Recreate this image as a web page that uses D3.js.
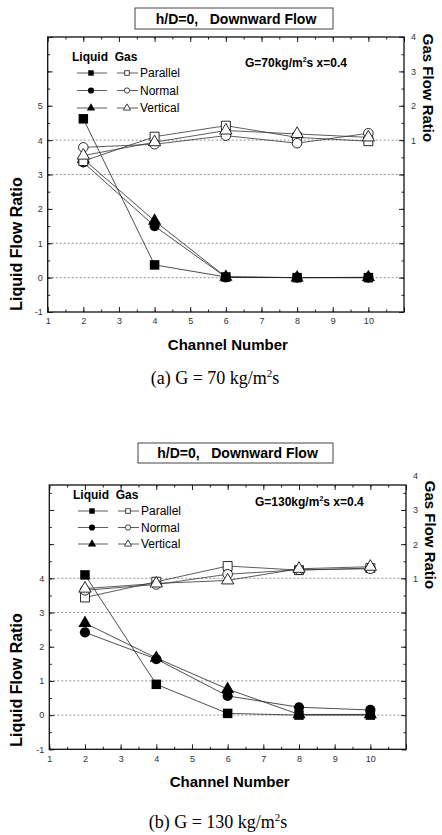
<!DOCTYPE html>
<html>
<head>
<meta charset="utf-8">
<script src="https://cdn.jsdelivr.net/npm/d3@7"></script>
<style>
  body { margin: 0; background: #fff; }
  svg { display: block; }
  .tick text { font-family: "Liberation Sans", Arial, sans-serif; font-size: 9px; fill: #333; }
</style>
</head>
<body>
<div id="chart"></div>
<script>
// Channel positions shared by both panels
const channels = [2, 4, 6, 8, 10];
const seriesNames = ['Parallel', 'Normal', 'Vertical'];

// (a) G = 70 kg/m2s  -- liquid on left axis, gas on right axis
const liqParallelA = [4.62, 0.37, 0.02, 0.0, 0.0];
const liqNormalA = [3.35, 1.50, 0.01, 0.0, 0.0];
const liqVerticalA = [3.45, 1.65, 0.02, 0.0, 0.01];
const gasParallelA = [0.39, 1.10, 1.42, 1.08, 0.97];
const gasNormalA = [0.79, 0.88, 1.13, 0.91, 1.20];
const gasVerticalA = [0.55, 0.94, 1.28, 1.18, 1.08];

// (b) G = 130 kg/m2s
const liqParallelB = [4.10, 0.90, 0.05, 0.0, 0.0];
const liqNormalB = [2.42, 1.64, 0.56, 0.23, 0.15];
const liqVerticalB = [2.69, 1.67, 0.76, 0.02, 0.02];
const gasParallelB = [0.44, 0.90, 1.36, 1.24, 1.30];
const gasNormalB = [0.65, 0.82, 1.12, 1.25, 1.28];
const gasVerticalB = [0.70, 0.85, 0.94, 1.28, 1.34];

// tick labels
const xTickLabels = [1, 2, 3, 4, 5, 6, 7, 8, 9, 10];
const leftTickLabelsA = [-1, 0, 1, 2, 3, 4, 5];
const leftTickLabelsB = [-1, 0, 1, 2, 3, 4];
const rightTickLabels = [1, 2, 3, 4];
const refLines = [0, 1, 3, 4]; // dotted guide lines (left scale)

const svg = d3.select('#chart')
  .append('svg')
  .attr('width', 442)
  .attr('height', 835);

const sans = '"Liberation Sans", Arial, sans-serif';

function drawPanel(p) {
  const x = d3.scaleLinear().domain([1, 11]).range([p.left, p.right]);
  const yL = d3.scaleLinear().domain([-1, p.topVal]).range([p.bottom, p.top]);
  const yR = d3.scaleLinear().domain([-4, p.topVal - 3]).range([p.bottom, p.top]);

  const g = svg.append('g');

  // title box
  g.append('rect')
    .attr('x', p.titleBox[0]).attr('y', p.titleBox[1])
    .attr('width', p.titleBox[2]).attr('height', p.titleBox[3])
    .attr('fill', 'none').attr('stroke', '#444').attr('stroke-width', 1);
  g.append('text')
    .attr('x', p.titleBox[0] + p.titleBox[2] / 2 + 2)
    .attr('y', p.titleBox[1] + p.titleBox[3] / 2 + 5)
    .attr('text-anchor', 'middle')
    .attr('font-family', sans).attr('font-weight', 'bold').attr('font-size', 14)
    .attr('xml:space', 'preserve')
    .text('h/D=0,   Downward Flow');

  // dotted guide lines
  g.selectAll('.ref')
    .data(refLines)
    .enter()
    .append('line')
    .attr('x1', p.left).attr('x2', p.right)
    .attr('y1', d => yL(d)).attr('y2', d => yL(d))
    .attr('stroke', '#777').attr('stroke-width', 0.8)
    .attr('stroke-dasharray', '2,2');

  // axes, ticks pointing inward
  const halves = d3.range(1, 11.01, 0.5);
  const leftMinor = d3.range(-1, p.topVal + 0.01, 0.5);
  const leftMajor = d3.range(-1, Math.floor(p.topVal) + 0.01, 1);

  g.append('g')
    .attr('transform', 'translate(0,' + p.bottom + ')')
    .call(d3.axisBottom(x).tickValues(halves).tickSize(-2.5).tickFormat(''));
  g.append('g')
    .attr('transform', 'translate(0,' + p.bottom + ')')
    .call(d3.axisBottom(x).tickValues(d3.range(1, 12)).tickSize(-5).tickPadding(6)
      .tickFormat(d => xTickLabels.includes(d) ? d : ''));
  g.append('g')
    .attr('transform', 'translate(0,' + p.top + ')')
    .call(d3.axisTop(x).tickValues(halves).tickSize(-2.5).tickFormat(''));
  g.append('g')
    .attr('transform', 'translate(0,' + p.top + ')')
    .call(d3.axisTop(x).tickValues(d3.range(1, 12)).tickSize(-5).tickFormat(''));

  g.append('g')
    .attr('transform', 'translate(' + p.left + ',0)')
    .call(d3.axisLeft(yL).tickValues(leftMinor).tickSize(-2.5).tickFormat(''));
  g.append('g')
    .attr('transform', 'translate(' + p.left + ',0)')
    .call(d3.axisLeft(yL).tickValues(leftMajor).tickSize(-5).tickPadding(5)
      .tickFormat(d => p.leftLabels.includes(d) ? d : ''));
  g.append('g')
    .attr('transform', 'translate(' + p.right + ',0)')
    .call(d3.axisRight(yR).tickValues(leftMinor.map(d => d - 3)).tickSize(-2.5).tickFormat(''));
  g.append('g')
    .attr('transform', 'translate(' + p.right + ',0)')
    .call(d3.axisRight(yR).tickValues(leftMajor.map(d => d - 3)).tickSize(-5).tickPadding(7)
      .tickFormat(d => rightTickLabels.includes(d) ? d : ''));

  // right labels that sit above the frame (no tick)
  const maxRight = Math.floor(p.topVal) - 3;
  rightTickLabels.filter(d => d > maxRight).forEach(d => {
    g.append('text')
      .attr('x', p.right + 7).attr('y', yR(d)).attr('dy', '0.32em')
      .attr('font-family', sans).attr('font-size', 9).attr('fill', '#333')
      .text(d);
  });

  g.selectAll('.domain').remove();
  g.selectAll('.tick line').attr('stroke', '#222');

  // frame
  g.append('rect')
    .attr('x', p.left).attr('y', p.top)
    .attr('width', p.right - p.left).attr('height', p.bottom - p.top)
    .attr('fill', 'none').attr('stroke', '#111').attr('stroke-width', 1.3);

  // axis titles
  g.append('text')
    .attr('transform', 'translate(' + p.leftTitle[0] + ',' + p.leftTitle[1] + ') rotate(-90)')
    .attr('text-anchor', 'middle')
    .attr('font-family', sans).attr('font-weight', 'bold').attr('font-size', 16)
    .text('Liquid Flow Ratio');
  g.append('text')
    .attr('transform', 'translate(' + p.rightTitle[0] + ',' + p.rightTitle[1] + ') rotate(90)')
    .attr('text-anchor', 'middle')
    .attr('font-family', sans).attr('font-weight', 'bold').attr('font-size', 15)
    .text('Gas Flow Ratio');
  g.append('text')
    .attr('x', (p.left + p.right) / 2 + 2)
    .attr('y', p.bottom + 38)
    .attr('text-anchor', 'middle')
    .attr('font-family', sans).attr('font-weight', 'bold').attr('font-size', 15)
    .text('Channel Number');

  // caption
  const cap = g.append('text')
    .attr('x', p.caption[0]).attr('y', p.caption[1])
    .attr('text-anchor', 'middle')
    .attr('font-family', '"Liberation Serif", "Times New Roman", serif').attr('font-size', 18);
  cap.append('tspan').text(p.captionText);
  cap.append('tspan').attr('dy', -7).attr('font-size', 11).text('2');
  cap.append('tspan').attr('dy', 7).text('s');

  // annotation
  const ann = g.append('text')
    .attr('x', p.note[0]).attr('y', p.note[1])
    .attr('font-family', sans).attr('font-weight', 'bold').attr('font-size', 12);
  ann.append('tspan').text(p.noteText);
  ann.append('tspan').attr('dy', -5).attr('font-size', 7).text('2');
  ann.append('tspan').attr('dy', 5).text('s x=0.4');

  // series lines and markers
  const symbols = [d3.symbolSquare, d3.symbolCircle, d3.symbolTriangle];
  const symSize = [90, 82, 75];
  const line = d3.line().x((d, i) => x(channels[i]));

  p.liquid.forEach((vals, k) => {
    g.append('path')
      .datum(vals)
      .attr('d', line.y(d => yL(d)))
      .attr('fill', 'none').attr('stroke', '#222').attr('stroke-width', 0.8);
  });
  p.liquid.forEach((vals, k) => {
    g.selectAll(null)
      .data(vals)
      .enter()
      .append('path')
      .attr('transform', (d, i) => 'translate(' + x(channels[i]) + ',' + yL(d) + ')')
      .attr('d', d3.symbol().type(symbols[k]).size(symSize[k]))
      .attr('fill', '#000');
  });
  p.gas.forEach((vals, k) => {
    g.append('path')
      .datum(vals)
      .attr('d', line.y(d => yR(d)))
      .attr('fill', 'none').attr('stroke', '#333').attr('stroke-width', 0.8);
  });
  p.gas.forEach((vals, k) => {
    g.selectAll(null)
      .data(vals)
      .enter()
      .append('path')
      .attr('transform', (d, i) => 'translate(' + x(channels[i]) + ',' + yR(d) + ')')
      .attr('d', d3.symbol().type(symbols[k]).size(symSize[k] - 10))
      .attr('fill', '#fff').attr('stroke', '#111').attr('stroke-width', 0.9);
  });

  // legend
  const lx = p.legend[0], ly = p.legend[1];
  g.append('text')
    .attr('x', lx).attr('y', ly)
    .attr('font-family', sans).attr('font-weight', 'bold').attr('font-size', 12)
    .attr('xml:space', 'preserve')
    .text('Liquid  Gas');
  seriesNames.forEach((name, k) => {
    const ry = ly + 12 + k * p.legendStep;
    g.append('line').attr('x1', lx + 5).attr('x2', lx + 35).attr('y1', ry).attr('y2', ry)
      .attr('stroke', '#333').attr('stroke-width', 0.8);
    g.append('path').attr('transform', 'translate(' + (lx + 19) + ',' + ry + ')')
      .attr('d', d3.symbol().type(symbols[k]).size(30)).attr('fill', '#000');
    g.append('line').attr('x1', lx + 45).attr('x2', lx + 66).attr('y1', ry).attr('y2', ry)
      .attr('stroke', '#333').attr('stroke-width', 0.8);
    g.append('path').attr('transform', 'translate(' + (lx + 55) + ',' + ry + ')')
      .attr('d', d3.symbol().type(symbols[k]).size(22))
      .attr('fill', '#fff').attr('stroke', '#111').attr('stroke-width', 0.8);
    g.append('text')
      .attr('x', lx + 68).attr('y', ry + 4)
      .attr('font-family', sans).attr('font-size', 12)
      .text(name);
  });
}

drawPanel({
  left: 47.7, right: 404, top: 37, bottom: 312, topVal: 7,
  leftLabels: leftTickLabelsA,
  titleBox: [135, 8, 198, 21],
  leftTitle: [22, 244], rightTitle: [423, 88],
  caption: [215, 384], captionText: '(a) G = 70 kg/m',
  note: [245, 67], noteText: 'G=70kg/m',
  legend: [72, 61], legendStep: 17.5,
  liquid: [liqParallelA, liqNormalA, liqVerticalA],
  gas: [gasParallelA, gasNormalA, gasVerticalA]
});

drawPanel({
  left: 49.3, right: 406, top: 485, bottom: 749.3, topVal: 6.73,
  leftLabels: leftTickLabelsB,
  titleBox: [138, 443, 195, 20],
  leftTitle: [22, 680], rightTitle: [425, 535],
  caption: [218, 828], captionText: '(b) G = 130 kg/m',
  note: [255, 506], noteText: 'G=130kg/m',
  legend: [73, 499], legendStep: 16.5,
  liquid: [liqParallelB, liqNormalB, liqVerticalB],
  gas: [gasParallelB, gasNormalB, gasVerticalB]
});
</script>
</body>
</html>
